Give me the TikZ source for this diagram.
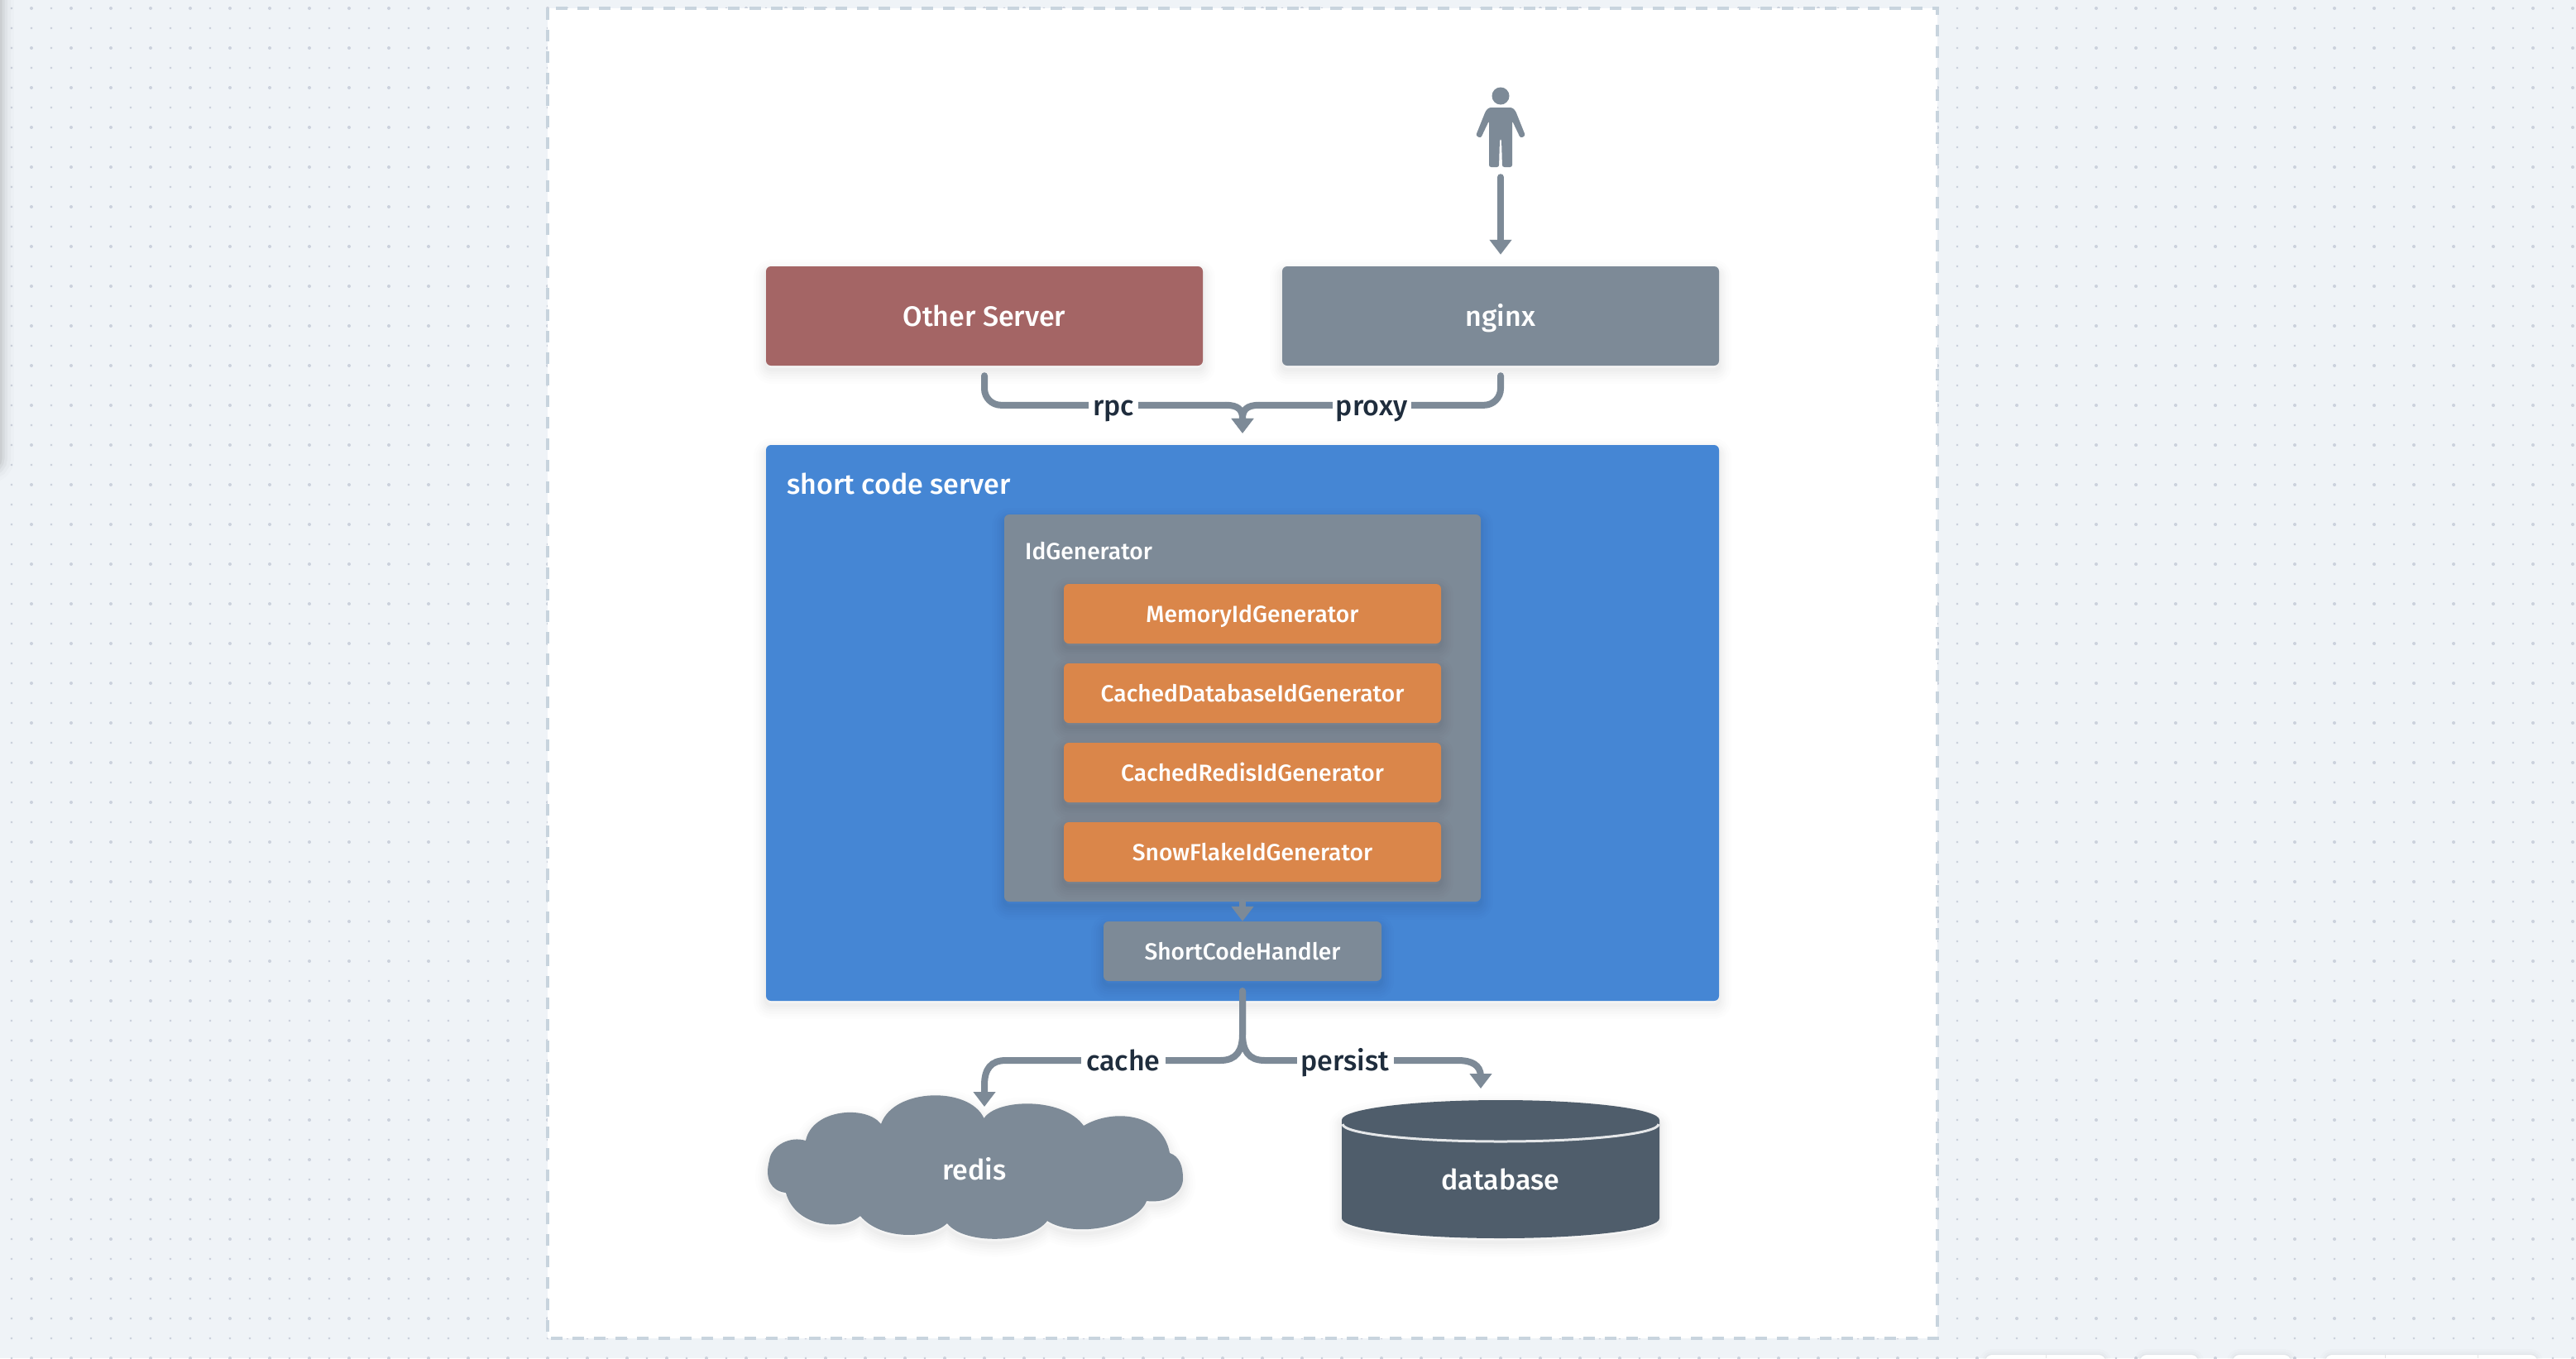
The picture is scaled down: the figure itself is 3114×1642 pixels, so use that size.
\documentclass[tikz,border=0pt]{standalone}
\usepackage{fontspec}
\setmainfont{Fira Sans Medium}
\usetikzlibrary{arrows.meta,calc}
\definecolor{bgc}{HTML}{EFF3F7}
\definecolor{dotc}{HTML}{CBD1DC}
\definecolor{framec}{HTML}{C8D4DE}
\definecolor{slatec}{HTML}{7D8A97}
\definecolor{redc}{HTML}{A46565}
\definecolor{bluec}{HTML}{4586D4}
\definecolor{orangec}{HTML}{DA864A}
\definecolor{darkc}{HTML}{4F5D6B}
\definecolor{inkc}{HTML}{1F2D3D}
\newcommand{\fsz}[1]{\fontsize{#1}{#1}\selectfont}
\tikzset{
  softshadow/.style={
    preaction={draw=black,draw opacity=.007,line width=30pt,line join=round,transform canvas={yshift=-7pt}},
    preaction={draw=black,draw opacity=.009,line width=24pt,line join=round,transform canvas={yshift=-7pt}},
    preaction={draw=black,draw opacity=.011,line width=18pt,line join=round,transform canvas={yshift=-7pt}},
    preaction={draw=black,draw opacity=.012,line width=13pt,line join=round,transform canvas={yshift=-6pt}},
    preaction={draw=black,draw opacity=.013,line width=8pt,line join=round,transform canvas={yshift=-6pt}},
    preaction={draw=black,draw opacity=.014,line width=4pt,line join=round,transform canvas={yshift=-5pt}}},
  bigtext/.style={font=\fsz{34},text height=24pt,text depth=0pt},
  smalltext/.style={font=\fsz{28.2},text height=20pt,text depth=0pt},
  box/.style={rectangle,rounded corners=6pt,softshadow,text=white,inner sep=0pt,align=center},
  topbox/.style={box,bigtext,minimum width=528pt,minimum height=120pt},
  implbox/.style={box,smalltext,fill=orangec,minimum width=456pt,minimum height=72pt},
  caption/.style={text=white,inner sep=0pt,anchor=west},
  plaintext/.style={text=white,inner sep=0pt,bigtext},
  edgelabel/.style={fill=white,text=inkc,inner sep=0pt,bigtext,minimum height=40pt},
  conn/.style={draw=slatec,line width=8pt,line cap=round,
    -{Triangle[length=18pt,width=26pt]}},
  connplain/.style={draw=slatec,line width=8pt,line cap=round},
  pillc/.style={fill=white,rounded corners=8pt}
}
\begin{document}
\begin{tikzpicture}[x=1pt,y=-1pt]
\useasboundingbox (0,0) rectangle (3114,1642);
\begin{scope}
\clip (0,0) rectangle (3114,1642);
\fill[bgc] (0,0) rectangle (3114,1642);
% dotted canvas
\foreach \j in {0,...,68} {
  \pgfmathsetmacro{\yy}{10+24*\j-1.1}
  \fill[dotc] foreach \i in {0,...,129} { (14+24*\i-1.1,\yy) rectangle ++(2.2,2.2) };
}
\foreach \j in {0,...,34} {
  \pgfmathsetmacro{\yy}{10+48*\j}
  \fill[dotc] foreach \i in {0,...,64} { (38+48*\i,\yy) circle[radius=2] };
}
% panel shadow at the left edge
\foreach \w/\o in {36/.012,28/.02,20/.03,13/.04,7/.05,2/.05}
  \draw[black,draw opacity=\o,line width=\w pt,rounded corners=12pt] (-30,-60) rectangle (-1,566);
% bottom toolbar
\foreach \a/\b in {2400/2545,2587/2657,2699/2769,2811/3067} {
  \foreach \w/\o in {14/.012,8/.016,3/.025}
    \draw[black,draw opacity=\o,line width=\w pt,rounded corners=8pt] (\a,1638) rectangle (\b,1680);
  \fill[pillc] (\a,1638) rectangle (\b,1680);
}
\foreach \x in {2473,2883,2995} \draw[color=black!10,line width=1pt] (\x,1638) -- (\x,1642);
\end{scope}
% sheet
\draw[draw=framec,fill=white,line width=4pt,dash pattern=on 14pt off 12pt] (662,10) rectangle (2342,1618);

% person
\fill[slatec] (1814,116) ellipse[x radius=10.5,y radius=10.5];
\fill[slatec,rounded corners=2.5pt]
  (1800,130) -- (1828,130) -- (1832,134) -- (1844,164) -- (1838,167) -- (1828,146)
  -- (1828,202) -- (1816,202) -- (1815,168) -- (1813,168) -- (1812,202) -- (1800,202)
  -- (1800,146) -- (1790,167) -- (1784,164) -- (1796,134) -- cycle;
\node[inner sep=0pt,minimum width=60pt,minimum height=96pt] (user) at (1814,154) {};

% top boxes
\node[topbox,fill=redc] (other) at (1190,382) {Other Server};
\node[topbox,fill=slatec] (nginx) at (1814,382) {nginx};

% server
\node[rectangle,rounded corners=6pt,softshadow,fill=bluec,minimum width=1152pt,minimum height=672pt,inner sep=0pt] (server) at (1502,874) {};
\node[caption,bigtext] (servercap) at (951,585) {short code server};
\node[rectangle,rounded corners=6pt,softshadow,fill=slatec,minimum width=576pt,minimum height=468pt,inner sep=0pt] (idgen) at (1502,856) {};
\node[caption,smalltext] (idcap) at (1239,666) {IdGenerator};
\node[implbox] (mem) at (1514,742) {MemoryIdGenerator};
\node[implbox] (cdb) at (1514,838) {CachedDatabaseIdGenerator};
\node[implbox] (crd) at (1514,934) {CachedRedisIdGenerator};
\node[implbox] (snow) at (1514,1030) {SnowFlakeIdGenerator};
\node[box,smalltext,fill=slatec,minimum width=336pt,minimum height=72pt] (handler) at (1502,1150) {ShortCodeHandler};

% cloud
\fill[slatec,softshadow]
  (974,1379) .. controls (982,1340) and (1048,1336) .. (1065,1359)
  .. controls (1080,1315) and (1172,1313) .. (1189.5,1352)
  .. controls (1205,1328) and (1285,1326) .. (1310,1361)
  .. controls (1345,1340) and (1405,1345) .. (1414,1394)
  .. controls (1426,1398) and (1430,1410) .. (1430,1425)
  .. controls (1430,1442) and (1412,1455) .. (1386,1452)
  .. controls (1375,1482) and (1300,1498) .. (1266,1476)
  .. controls (1245,1504) and (1165,1505) .. (1145,1479)
  .. controls (1125,1498) and (1065,1500) .. (1040,1470)
  .. controls (1020,1488) and (962,1485) .. (950,1442)
  .. controls (932,1440) and (924,1425) .. (930,1403)
  .. controls (932,1385) and (955,1373) .. cycle;
\node[plaintext] (redis) at (1178,1414) {redis};

% database
\fill[darkc,softshadow] (1622,1354) -- (1622,1473)
  arc[start angle=180,end angle=0,x radius=192,y radius=24] -- (2006,1354)
  arc[start angle=0,end angle=-180,x radius=192,y radius=24] -- cycle;
\draw[color=white!85!darkc,line width=3pt] (1623,1359) arc[start angle=180,end angle=0,x radius=191,y radius=21];
\node[plaintext] (database) at (1814,1426) {database};

% connectors
\coordinate (usertop) at ($(user.south)+(0,12)$);
\coordinate (nginxtip) at ($(nginx.north)+(0,-14)$);
\draw[conn] (usertop) -- (nginxtip);

\coordinate (mergetip) at ($(server.north)+(0,-14)$);
\coordinate (othergo) at ($(other.south)+(0,12)$);
\coordinate (nginxgo) at ($(nginx.south)+(0,12)$);
\draw[connplain,rounded corners=20pt] (othergo) |- ($(mergetip)+(-20,-34)$);
\draw[connplain,rounded corners=20pt] (nginxgo) |- ($(mergetip)+(20,-34)$);
\draw[conn] ($(mergetip)+(-20,-34)$) .. controls ($(mergetip)+(-5,-34)$) and ($(mergetip)+(0,-28)$) .. ($(mergetip)+(0,-18)$) -- (mergetip);
\draw[conn] ($(mergetip)+(20,-34)$) .. controls ($(mergetip)+(5,-34)$) and ($(mergetip)+(0,-28)$) .. ($(mergetip)+(0,-18)$) -- (mergetip);
\node[edgelabel,minimum width=60pt] (rpc) at (1346,490) {rpc};
\node[edgelabel,minimum width=95pt] (proxy) at (1658,490) {proxy};

\coordinate (idtip) at (handler.north);
\draw[conn] (idgen.south) -- (idtip);

\coordinate (handlergo) at ($(handler.south)+(0,12)$);
\coordinate (redistip) at (1190,1338);
\coordinate (dbtip) at (1790,1316);
\draw[conn] (handlergo) -- (1502,1250) .. controls (1502,1270) and (1495,1282) .. (1475,1282)
  -- (1216,1282) .. controls (1198,1282) and (1190,1292) .. (1190,1312) -- (redistip);
\draw[conn] (handlergo) -- (1502,1250) .. controls (1502,1270) and (1509,1282) .. (1529,1282)
  -- (1762,1282) .. controls (1780,1282) and (1789,1288) .. (1790,1300) -- (dbtip);
\node[edgelabel,minimum width=102pt] (cache) at (1358,1282) {cache};
\node[edgelabel,minimum width=117pt] (persist) at (1626,1282) {persist};
\end{tikzpicture}
\end{document}
